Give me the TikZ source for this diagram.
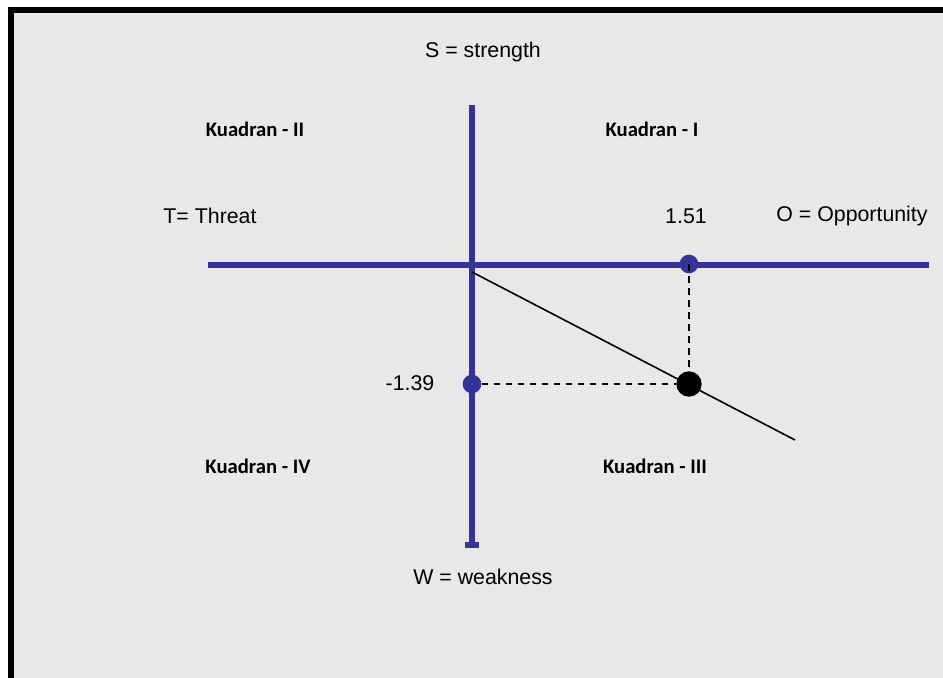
\documentclass[tikz,border=0pt]{standalone}
\usepackage{fontspec}
\setmainfont{Liberation Sans}
\newfontfamily\kuadranfont{Carlito}
\usetikzlibrary{positioning}
\definecolor{axisblue}{RGB}{51,51,153}
\definecolor{panelgray}{RGB}{232,232,232}

\begin{document}
\begin{tikzpicture}[x=0.75pt, y=-0.75pt, font=\fontsize{16}{19}\selectfont,
    axis/.style={axisblue, line width=5.2pt},
    quad/.style={font=\kuadranfont\bfseries\fontsize{15.5}{18}\selectfont},
    bluedot/.style={circle, fill=axisblue, inner sep=0pt, minimum size=14pt},
    guide/.style={dash pattern=on 5pt off 4pt, line width=1.2pt}]
\useasboundingbox (0,0) rectangle (943,678);
\draw[line width=4.5pt, fill=panelgray] (11,9.5) rectangle (990,720);

% axes
\coordinate (tEnd) at (208,265);
\coordinate (oEnd) at (929,265);
\coordinate (sEnd) at (472,105);
\coordinate (wEnd) at (472,545);
\draw[axis] (tEnd) -- (oEnd);
\draw[axis] (sEnd) -- (wEnd);
\draw[axisblue, line width=4.5pt] (465,545) -- (479,545);

\node at (483,52) {S = strength};
\node at (483,577) {W = weakness};
\node at (210,216) {T= Threat};
\node at (852,216) {O = Opportunity};

\node[quad] at (255,129) {Kuadran - II};
\node[quad] at (652,129) {Kuadran - I};
\node[quad] at (258,466) {Kuadran - IV};
\node[quad] at (655,466) {Kuadran - III};

% position line
\coordinate (origin) at (472,272);
\coordinate (lineEnd) at (795,440);
\draw[line width=1.2pt] (origin) -- (lineEnd);

\node[bluedot] (oDot) at (689,264) {};
\node[bluedot] (wDot) at (472,384) {};
\node[circle, fill=black, inner sep=0pt, minimum size=19pt] (pDot) at (689,384) {};
\draw[guide] (oDot.center) -- (pDot);
\draw[guide] (wDot) -- (pDot);

\node at (686,216) {1.51};
\node at (410,383) {-1.39};
\end{tikzpicture}
\end{document}
